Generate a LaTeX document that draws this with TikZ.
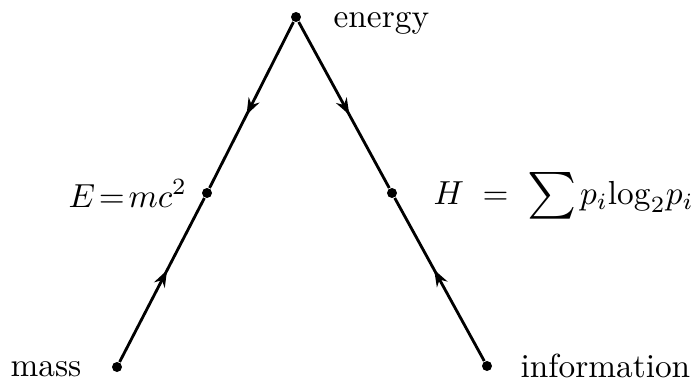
\documentclass[tikz,border=0pt]{standalone}
\usetikzlibrary{arrows.meta,decorations.markings}
\begin{document}
\begin{tikzpicture}[x=0.3pt,y=-0.3pt,
  dot/.style={circle,fill=black,inner sep=0pt,minimum size=3pt},
  lbl/.style={inner sep=0pt,font=\fontsize{10}{12}\selectfont},
  edge/.style={line width=0.85pt,
    postaction={decorate},
    decoration={markings,mark=at position 0.56 with {\arrow{Stealth[length=5pt,width=3.6pt]}}}}]
\useasboundingbox (0,0) rectangle (691,386);
\node[dot] (top) at (296,17) {};
\node[dot] (lm) at (207,193) {};
\node[dot] (rm) at (392,193) {};
\node[dot] (bl) at (117,367) {};
\node[dot] (br) at (487,366) {};
\draw[edge] (top) -- (lm);
\draw[edge] (bl) -- (lm);
\draw[edge] (top) -- (rm);
\draw[edge] (br) -- (rm);
\node[lbl,anchor=base west] (tE) at (333,27) {energy};
\node[lbl,anchor=base west] (tM) at (10,376) {mass};
\node[lbl,anchor=base west] (tI) at (520,377) {information};
\node[lbl,anchor=base west] (tEq) at (68,207) {$E\mkern2mu{=}\mkern2mu mc^2$};
\node[lbl,anchor=base west] (tH) at (433,204) {$H\;\;{=}\;\;\raisebox{-0.25ex}{\scalebox{1.4}{$\sum$}}\mkern2mu p_i\mathrm{log}_2p_i$};
\end{tikzpicture}
\end{document}
